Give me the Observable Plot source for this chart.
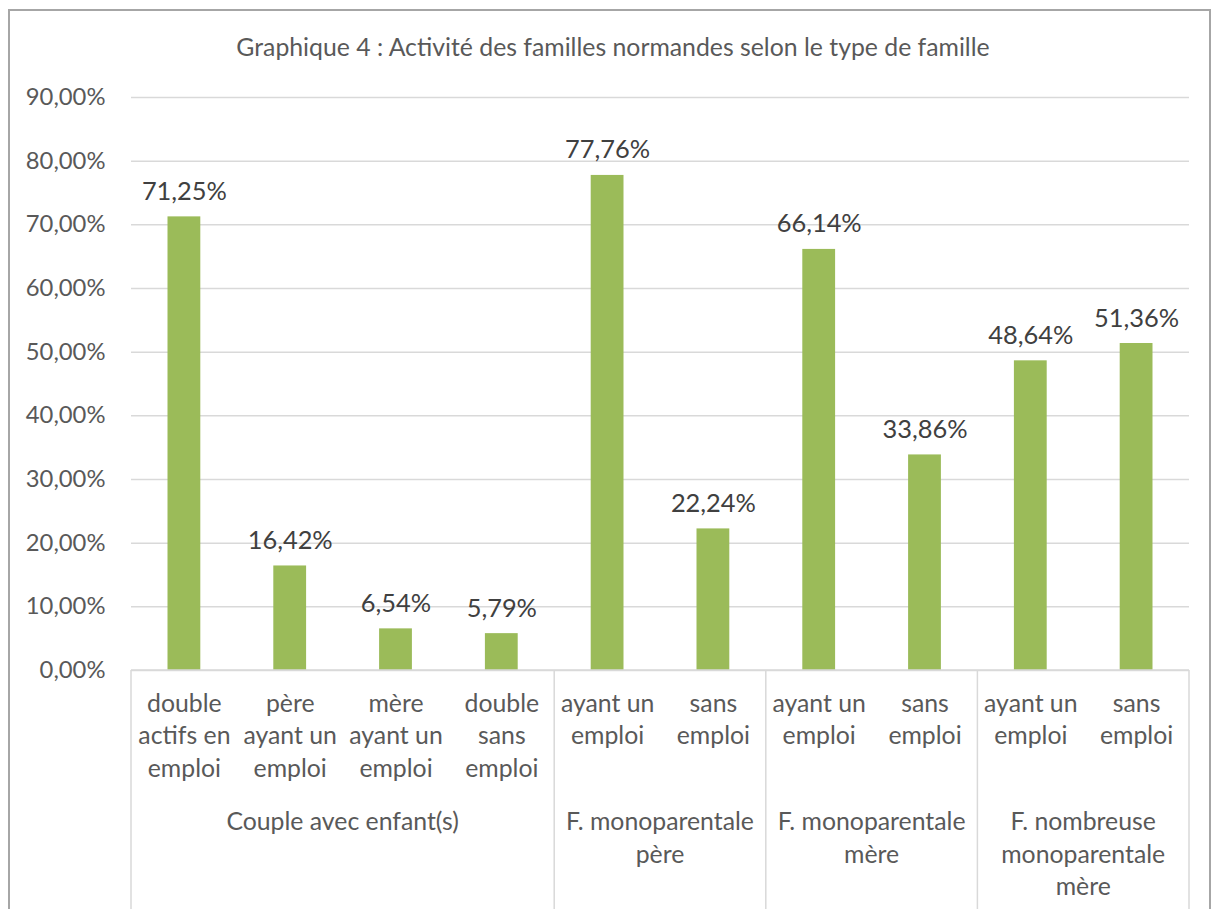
<!DOCTYPE html>
<html><head><meta charset="utf-8">
<script src="https://cdn.jsdelivr.net/npm/d3@7"></script>
<script src="https://cdn.jsdelivr.net/npm/@observablehq/plot@0.6"></script>
<style>
html,body{margin:0;padding:0;overflow:hidden;background:#fff;font-family:Lato,sans-serif;}
#frame{position:absolute;left:8px;top:9px;width:1203px;height:1000px;border:2px solid #a6a6a6;box-sizing:border-box;}
#title{position:absolute;left:6px;top:32px;width:1214px;text-align:center;font-size:24.8px;line-height:30px;color:#595959;}
#chart{position:absolute;left:0;top:70px;}
</style></head><body>
<div id="frame"></div>
<div id="title">Graphique 4 : Activité des familles normandes selon le type de famille</div>
<div id="chart"></div>
<script>
const subCategories = [
  "double\nactifs en\nemploi",
  "père\nayant un\nemploi",
  "mère\nayant un\nemploi",
  "double\nsans\nemploi",
  "ayant un\nemploi",
  "sans\nemploi",
  "ayant un\nemploi",
  "sans\nemploi",
  "ayant un\nemploi",
  "sans\nemploi"
];
const groupNames = [
  "Couple avec enfant(s)",
  "F. monoparentale\npère",
  "F. monoparentale\nmère",
  "F. nombreuse\nmonoparentale\nmère"
];
const groupOfBar = [0, 0, 0, 0, 1, 1, 2, 2, 3, 3];
const values = [71.25, 16.42, 6.54, 5.79, 77.76, 22.24, 66.14, 33.86, 48.64, 51.36];
const yTicks = [0, 10, 20, 30, 40, 50, 60, 70, 80, 90];

const data = values.map((v, i) => ({i, sub: subCategories[i], group: groupOfBar[i], value: v}));
const fmt = v => v.toFixed(2).replace(".", ",") + "%";

const W = 1214, H = 850;
const mTop = 27, mBottom = 250, mLeft = 131, mRight = 25;
const labelFont = 24.8;
const lineH = 32.5;

function categoryBox(index, scales, values, dimensions) {
  const x = scales.x;
  const bw = typeof x.bandwidth === "function" ? x.bandwidth() : 0;
  const centers = data.map(d => x(d.i) + bw / 2);
  const step = centers[1] - centers[0];
  const y0 = dimensions.height - dimensions.marginBottom;
  const g = d3.create("svg:g");
  const bounds = [];
  data.forEach((d, k) => {
    if (k === 0 || groupOfBar[k] !== groupOfBar[k - 1]) bounds.push(centers[k] - step / 2);
  });
  bounds.push(centers[centers.length - 1] + step / 2);
  g.selectAll("line.sep").data(bounds).join("line")
    .attr("x1", d => d).attr("x2", d => d)
    .attr("y1", y0).attr("y2", dimensions.height)
    .attr("stroke", "#d9d9d9").attr("stroke-width", 1.5);
  g.append("line").attr("x1", bounds[0]).attr("x2", bounds[bounds.length - 1])
    .attr("y1", y0).attr("y2", y0).attr("stroke", "#d9d9d9").attr("stroke-width", 1.5);
  groupNames.forEach((name, gi) => {
    const cs = centers.filter((c, k) => groupOfBar[k] === gi);
    const cx = d3.mean(cs);
    const t = g.append("text").attr("text-anchor", "middle").attr("fill", "#595959")
      .attr("font-size", labelFont);
    name.split("\n").forEach((line, li) => {
      t.append("tspan").attr("x", cx).attr("y", y0 + 160 + li * lineH).text(line);
    });
  });
  return g.node();
}

const chart = Plot.plot({
  width: W, height: H,
  marginTop: mTop, marginBottom: mBottom, marginLeft: mLeft, marginRight: mRight,
  style: {background: "transparent", fontFamily: "Lato, sans-serif", fontSize: "24px", overflow: "visible"},
  x: {type: "band", domain: data.map(d => d.i), paddingInner: 0.69, paddingOuter: 0.345, round: false, axis: null},
  y: {domain: [0, 90], axis: null},
  marks: [
    Plot.gridY(yTicks, {stroke: "#d9d9d9", strokeOpacity: 1, strokeWidth: 1.5}),
    Plot.axisY(yTicks, {tickSize: 0, tickPadding: 26, tickFormat: fmt, fontSize: 23.8, fill: "#595959", label: null}),
    Plot.barY(data, {x: "i", y: "value", fill: "#9bbb59"}),
    Plot.text(data, {x: "i", y: "value", text: d => fmt(d.value), lineAnchor: "bottom", dy: -17, fontSize: 25.4, fill: "#404040"}),
    Plot.text(data, {x: "i", text: "sub", frameAnchor: "bottom", lineAnchor: "top", dy: 18, lineHeight: lineH / labelFont, fontSize: labelFont, fill: "#595959"}),
    categoryBox
  ]
});
document.getElementById("chart").append(chart);
</script>
</body></html>
